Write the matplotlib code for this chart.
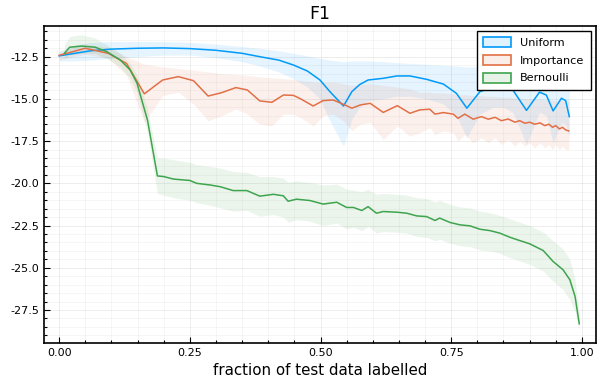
import matplotlib
matplotlib.use("Agg")
import matplotlib.pyplot as plt
from matplotlib.patches import Patch
from matplotlib.ticker import AutoMinorLocator, FixedLocator, FormatStrFormatter

# Uniform
uni_x = [0.0, 0.03, 0.06, 0.10, 0.15, 0.20, 0.25, 0.30, 0.35, 0.384, 0.42, 0.448, 0.475,
         0.499, 0.518, 0.544, 0.56, 0.575, 0.591, 0.62, 0.646, 0.671, 0.703, 0.735, 0.76,
         0.78, 0.805, 0.83, 0.85, 0.868, 0.894, 0.919, 0.932, 0.945, 0.961, 0.969, 0.976]
uni_y = [-12.45, -12.3, -12.15, -12.05, -12.0, -11.98, -12.02, -12.12, -12.3, -12.5, -12.7,
         -12.99, -13.35, -13.88, -14.57, -15.42, -14.57, -14.15, -13.88, -13.78, -13.64,
         -13.64, -13.84, -14.12, -14.67, -15.55, -14.57, -14.3, -14.3, -14.47, -15.68,
         -14.6, -14.77, -15.71, -14.96, -15.1, -16.05]
uni_hi = [-12.2, -11.8, -11.65, -11.6, -11.6, -11.6, -11.65, -11.75, -11.9, -12.0, -12.15,
          -12.3, -12.45, -12.6, -12.7, -12.8, -12.75, -12.75, -12.75, -12.8, -12.85, -12.9,
          -12.95, -13.0, -13.05, -13.1, -13.1, -13.15, -13.2, -13.25, -13.35, -13.3, -13.35,
          -13.45, -13.4, -13.4, -13.5]
uni_lo = [-12.75, -12.75, -12.7, -12.6, -12.5, -12.4, -12.4, -12.55, -12.8, -13.05, -13.4,
          -13.8, -14.3, -15.0, -16.3, -17.8, -16.2, -15.5, -15.1, -15.0, -14.85, -14.85,
          -15.0, -15.3, -16.0, -17.3, -15.9, -15.5, -15.5, -15.8, -17.7, -15.8, -16.0,
          -17.6, -16.4, -16.5, -17.3]

# Importance
imp_x = [0.0, 0.05, 0.094, 0.129, 0.163, 0.198, 0.228, 0.257, 0.285, 0.311, 0.338, 0.36,
         0.384, 0.407, 0.429, 0.448, 0.461, 0.486, 0.505, 0.524, 0.544, 0.56, 0.576, 0.595,
         0.62, 0.647, 0.671, 0.69, 0.709, 0.719, 0.735, 0.754, 0.763, 0.776, 0.792, 0.808,
         0.821, 0.834, 0.846, 0.859, 0.872, 0.881, 0.891, 0.9, 0.91, 0.92, 0.929, 0.937,
         0.944, 0.95, 0.957, 0.963, 0.969, 0.975]
imp_y = [-12.42, -12.0, -12.3, -12.9, -14.7, -13.88, -13.68, -13.92, -14.83, -14.63, -14.33,
         -14.47, -15.12, -15.2, -14.77, -14.79, -14.98, -15.42, -15.1, -15.06, -15.32, -15.55,
         -15.36, -15.26, -15.8, -15.4, -15.85, -15.65, -15.61, -15.9, -15.81, -15.9, -16.15,
         -15.9, -16.2, -16.05, -16.2, -16.09, -16.29, -16.19, -16.38, -16.29, -16.44, -16.38,
         -16.5, -16.42, -16.58, -16.5, -16.68, -16.58, -16.78, -16.68, -16.84, -16.9]
imp_hi = [-12.2, -11.75, -11.95, -12.5, -12.95, -13.1, -13.2, -13.3, -13.4, -13.5, -13.55,
          -13.6, -13.7, -13.75, -13.8, -13.85, -13.9, -14.0, -14.0, -14.0, -14.1, -14.2,
          -14.15, -14.1, -14.2, -14.3, -14.4, -14.6, -14.6, -14.65, -14.65, -14.7, -14.75,
          -14.75, -14.8, -14.8, -14.85, -14.85, -14.9, -14.9, -14.95, -14.95, -15.0, -15.0,
          -15.0, -15.0, -15.05, -15.05, -15.1, -15.1, -15.1, -15.1, -15.1, -15.1]
imp_lo = [-12.7, -12.35, -12.6, -13.6, -16.4, -14.8, -14.6, -15.3, -16.3, -16.0, -15.6, -15.9,
          -16.5, -16.6, -15.9, -15.9, -16.1, -16.6, -16.0, -15.9, -16.3, -16.9, -16.5, -16.4,
          -17.4, -16.6, -17.2, -17.0, -16.7, -17.1, -16.9, -17.0, -17.5, -17.1, -17.6, -17.3,
          -17.6, -17.3, -17.7, -17.4, -17.8, -17.5, -17.8, -17.6, -17.9, -17.6, -17.9, -17.7,
          -18.0, -17.7, -18.0, -17.8, -18.0, -18.0]

# Bernoulli
bern_x = [0.01, 0.02, 0.043, 0.069, 0.091, 0.117, 0.136, 0.149, 0.158, 0.169, 0.188, 0.2,
          0.219, 0.238, 0.25, 0.263, 0.289, 0.308, 0.333, 0.359, 0.384, 0.41, 0.429, 0.438,
          0.454, 0.48, 0.505, 0.531, 0.55, 0.563, 0.579, 0.591, 0.607, 0.62, 0.646, 0.665,
          0.684, 0.703, 0.719, 0.728, 0.748, 0.767, 0.786, 0.805, 0.824, 0.843, 0.862, 0.881,
          0.9, 0.926, 0.945, 0.964, 0.977, 0.987, 0.995]
bern_y = [-12.3, -11.94, -11.87, -11.94, -12.2, -12.7, -13.29, -14.07, -15.06, -16.25, -19.56,
          -19.6, -19.75, -19.8, -19.83, -20.0, -20.1, -20.2, -20.43, -20.43, -20.76, -20.65,
          -20.74, -21.06, -20.94, -21.02, -21.23, -21.12, -21.43, -21.43, -21.61, -21.38,
          -21.77, -21.67, -21.71, -21.77, -21.93, -21.97, -22.2, -22.06, -22.32, -22.46,
          -22.52, -22.72, -22.8, -22.95, -23.19, -23.39, -23.58, -23.98, -24.63, -25.12,
          -25.71, -26.7, -28.32]
bern_hi = [-11.8, -11.3, -11.2, -11.4, -11.8, -12.3, -12.9, -13.6, -14.5, -15.6, -18.5, -18.5,
           -18.6, -18.7, -18.75, -18.9, -19.0, -19.1, -19.3, -19.35, -19.6, -19.6, -19.7,
           -19.95, -19.85, -19.95, -20.1, -20.05, -20.35, -20.4, -20.5, -20.35, -20.65, -20.6,
           -20.65, -20.7, -20.85, -20.9, -21.1, -21.0, -21.25, -21.4, -21.45, -21.65, -21.75,
           -21.9, -22.1, -22.3, -22.5, -22.9, -23.4, -23.9, -24.5, -25.7, -27.8]
bern_lo = [-12.6, -12.4, -12.3, -12.3, -12.6, -13.1, -13.8, -14.6, -15.7, -17.0, -20.6, -20.7,
           -20.85, -20.95, -21.0, -21.15, -21.3, -21.45, -21.65, -21.6, -21.95, -21.85, -22.0,
           -22.3, -22.15, -22.25, -22.5, -22.35, -22.7, -22.6, -22.8, -22.55, -22.95, -22.85,
           -22.9, -22.95, -23.15, -23.2, -23.4, -23.3, -23.55, -23.7, -23.75, -23.95, -24.0,
           -24.15, -24.4, -24.6, -24.8, -25.2, -25.8, -26.3, -26.9, -27.6, -28.7]

names = ["Uniform", "Importance", "Bernoulli"]
colors = ["#009AFA", "#E26F46", "#3EA44E"]
xticks = [0.0, 0.25, 0.5, 0.75, 1.0]
yticks = [-27.5, -25.0, -22.5, -20.0, -17.5, -15.0, -12.5]

series = [(uni_x, uni_y, uni_lo, uni_hi),
          (imp_x, imp_y, imp_lo, imp_hi),
          (bern_x, bern_y, bern_lo, bern_hi)]

fig = plt.figure(figsize=(6.0, 3.82), dpi=100)
ax = fig.add_axes([0.0733, 0.102, 0.92, 0.830])

fill_alpha = 0.1
for (x, y, lo, hi), c in zip(series, colors):
    ax.fill_between(x, lo, hi, color=c, alpha=fill_alpha, linewidth=0)
    ax.plot(x, y, color=c, lw=1.1)

ax.set_xlim(-0.029, 1.027)
ax.set_ylim(-29.46, -10.68)
ax.xaxis.set_major_locator(FixedLocator(xticks))
ax.yaxis.set_major_locator(FixedLocator(yticks))
ax.xaxis.set_major_formatter(FormatStrFormatter("%.2f"))
ax.yaxis.set_major_formatter(FormatStrFormatter("%.1f"))
ax.xaxis.set_minor_locator(AutoMinorLocator(5))
ax.yaxis.set_minor_locator(AutoMinorLocator(5))

ax.grid(True, which="major", color="black", alpha=0.1, lw=0.5)
ax.grid(True, which="minor", color="black", alpha=0.05, lw=0.5)
ax.set_axisbelow(True)
ax.tick_params(which="both", direction="in", labelsize=8, width=0.8)
ax.tick_params(which="major", length=4)
ax.tick_params(which="minor", length=2)
for s in ax.spines.values():
    s.set_linewidth(1.2)

ax.set_title("F1", fontsize=12.5, pad=5)
ax.set_xlabel("fraction of test data labelled", fontsize=10.8, labelpad=4)

handles = [Patch(facecolor=matplotlib.colors.to_rgba(c, 0.12), edgecolor=c, lw=1.2)
           for c in colors]
leg = ax.legend(handles, names, loc="upper right", fontsize=8.1, fancybox=False,
                edgecolor="black", framealpha=1, borderaxespad=0.45, handlelength=2.5,
                handleheight=1.0, labelspacing=0.6, borderpad=0.55)
leg.get_frame().set_linewidth(1.0)

fig.savefig("out.png", dpi=100)
